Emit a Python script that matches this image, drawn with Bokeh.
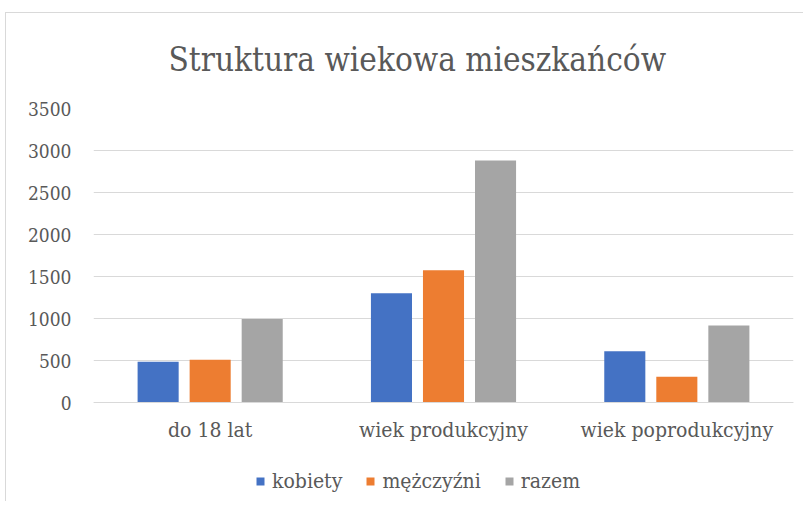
from bokeh.plotting import figure
from bokeh.models import ColumnDataSource, FixedTicker, Legend, LegendItem
from bokeh.transform import dodge
from bokeh.embed import file_html
from bokeh.resources import INLINE

categories = ["do 18 lat", "wiek produkcyjny", "wiek poprodukcyjny"]
kobiety = [485, 1300, 610]
mezczyzni = [510, 1575, 307]
razem = [995, 2880, 917]
series_names = ["kobiety", "mężczyźni", "razem"]
y_ticks = [0, 500, 1000, 1500, 2000, 2500, 3000, 3500]

colors = ["#4472C4", "#ED7D31", "#A5A5A5"]
TXT = "#595959"
FONT = "DejaVu Serif Condensed"

source = ColumnDataSource(dict(cat=categories, kobiety=kobiety,
                               mezczyzni=mezczyzni, razem=razem))

FRAME_TOP = 108
PLOT_H = 294
px_per_unit = PLOT_H / 3500
y_bottom = -(501 - FRAME_TOP - PLOT_H) / px_per_unit

p = figure(x_range=categories, y_range=(y_bottom, 3500), width=803, height=501,
           output_backend="svg", toolbar_location=None,
           min_border_left=93, min_border_right=10,
           min_border_top=FRAME_TOP, min_border_bottom=0)

# chart-area border (light grey, top and left edges), drawn as host background
p.border_fill_color = None
p.styles = {
    "background": ("linear-gradient(#D9D9D9,#D9D9D9) 5px 12px / 1px 100% no-repeat, "
                   "linear-gradient(#D9D9D9,#D9D9D9) 5px 12px / 100% 1px no-repeat, white")
}

p.title.text = "Struktura wiekowa mieszkańców"
p.title.text_font = FONT
p.title.text_font_size = "33px"
p.title.text_font_style = "normal"
p.title.text_color = TXT
p.title.align = "left"
p.title.offset = 75
p.title.standoff = 60

renderers = []
for col, off, c in zip(["kobiety", "mezczyzni", "razem"], [-0.223, 0.0, 0.223], colors):
    r = p.vbar(x=dodge("cat", off, range=p.x_range), top=col, width=0.176,
               source=source, fill_color=c, line_color=None)
    renderers.append(r)

p.outline_line_color = None
p.background_fill_color = "white"

p.xgrid.grid_line_color = None
p.ygrid.grid_line_color = "#D9D9D9"
p.ygrid.grid_line_width = 1
p.yaxis.ticker = FixedTicker(ticks=y_ticks)

p.yaxis.axis_line_color = None
p.yaxis.major_tick_line_color = None
p.yaxis.minor_tick_line_color = None
p.yaxis.major_label_text_font = FONT
p.yaxis.major_label_text_font_size = "19px"
p.yaxis.major_label_text_color = TXT
p.yaxis.major_label_standoff = 16

p.xaxis.fixed_location = 0
p.xaxis.axis_line_color = "#D9D9D9"
p.xaxis.major_tick_line_color = None
p.xaxis.minor_tick_line_color = None
p.xaxis.major_label_text_font = FONT
p.xaxis.major_label_text_font_size = "21px"
p.xaxis.major_label_text_color = TXT
p.xaxis.major_label_standoff = 9

legend = Legend(items=[LegendItem(label=n, renderers=[r]) for n, r in zip(series_names, renderers)],
                orientation="horizontal", location=(162, 8))
legend.label_text_font = FONT
legend.label_text_font_size = "21px"
legend.label_text_color = TXT
legend.label_height = 24
legend.glyph_width = 10
legend.glyph_height = 10
legend.label_standoff = 7
legend.spacing = 23
legend.border_line_color = None
legend.background_fill_alpha = 0
legend.margin = 0
legend.padding = 0
p.add_layout(legend, "center")

open("out.html", "w").write(file_html(p, INLINE))
